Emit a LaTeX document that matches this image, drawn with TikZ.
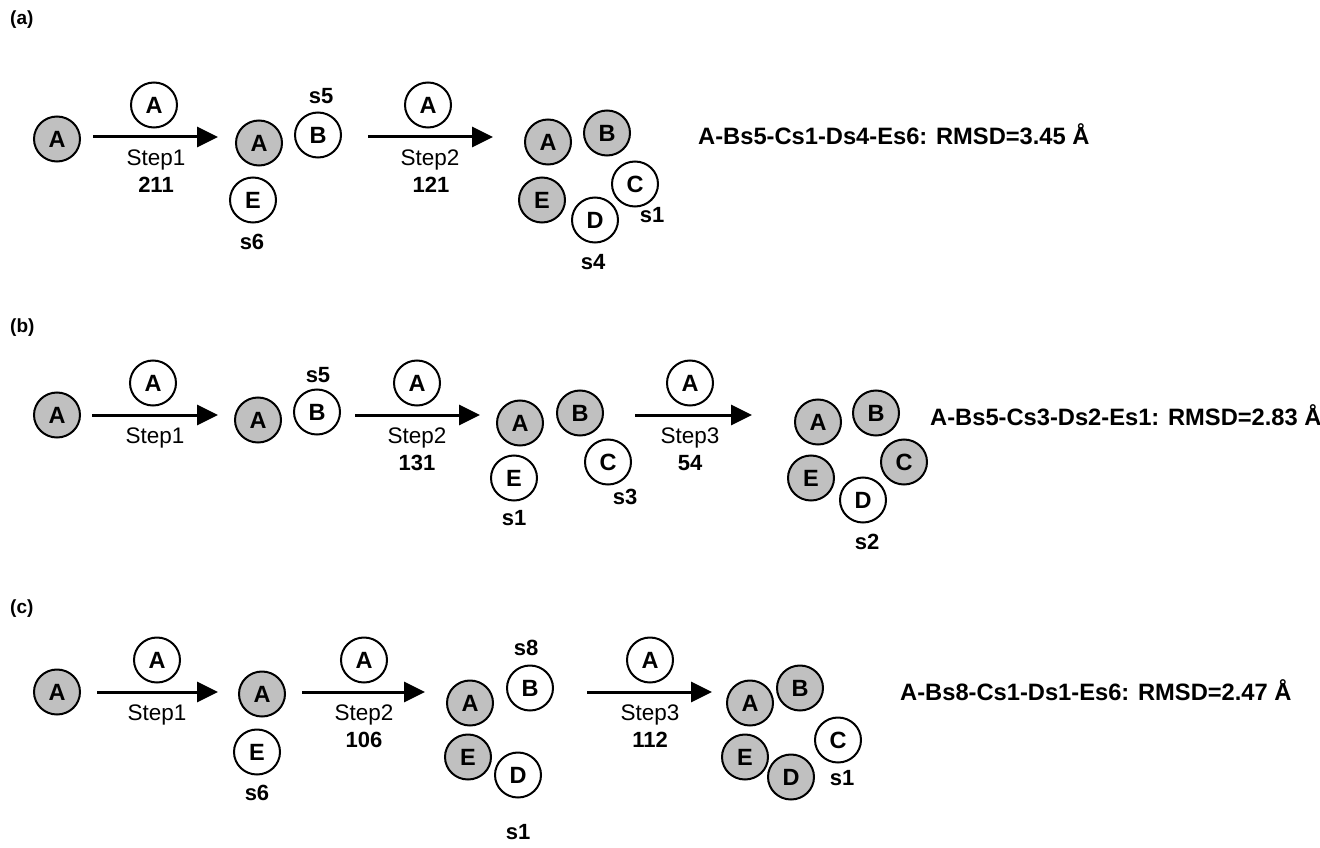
\documentclass[tikz,border=0pt]{standalone}
\usepackage{fontspec}
\setmainfont{Liberation Sans}
\usetikzlibrary{arrows.meta,shapes.geometric}
\definecolor{ballgray}{RGB}{192,192,192}
\begin{document}
\begin{tikzpicture}[x=1pt,y=-1pt,
 ball/.style={ellipse,draw,line width=2pt,minimum width=46pt,minimum height=45pt,inner sep=0pt,font=\bfseries\fontsize{23.5}{26}\selectfont},
 gball/.style={ball,fill=ballgray},
 wball/.style={ball,fill=white},
 arr/.style={line width=3pt,-{Triangle[length=21pt,width=20pt]}},
 steptxt/.style={font=\fontsize{22.5}{26}\selectfont,inner sep=0pt,anchor=base},
 numtxt/.style={font=\bfseries\fontsize{22}{26}\selectfont,inner sep=0pt,anchor=base},
 slab/.style={font=\bfseries\fontsize{22}{26}\selectfont,inner sep=0pt},
 rmsd/.style={font=\bfseries\fontsize{23.7}{28}\selectfont,inner sep=0pt,anchor=base west},
 panel/.style={font=\bfseries\fontsize{19}{22}\selectfont,inner sep=0pt,anchor=west}]
\useasboundingbox (0,0) rectangle (1320,848);

% ---------------- (a)
\node[panel] (la) at (10,20) {(a)};
\node[gball] (a1) at (57,139) {A};
\coordinate (a1s) at (93,137); \coordinate (a1e) at (218,137);
\draw[arr] (a1s) -- (a1e);
\node[wball] (a1t) at (154,105) {A};
\node[steptxt] (a1st) at (156,165) {Step1};
\node[numtxt] (a1n) at (156,192) {211};

\node[gball] (a2A) at (259,143) {A};
\node[wball] (a2B) at (318,135) {B};
\node[slab] (a2s5) at (321,96) {s5};
\node[wball] (a2E) at (253,200) {E};
\node[slab] (a2s6) at (252,242) {s6};

\coordinate (a2s) at (368,137); \coordinate (a2e) at (493,137);
\draw[arr] (a2s) -- (a2e);
\node[wball] (a2t) at (428,105) {A};
\node[steptxt] (a2st) at (430,165) {Step2};
\node[numtxt] (a2n) at (431,192) {121};

\node[gball] (a3A) at (548,142) {A};
\node[gball] (a3B) at (607,133) {B};
\node[wball] (a3C) at (635,184) {C};
\node[gball] (a3E) at (542,200) {E};
\node[wball] (a3D) at (595,220) {D};
\node[slab] (a3s1) at (652,215) {s1};
\node[slab] (a3s4) at (593,262) {s4};
\node[rmsd] (ra) at (698,145) {A-Bs5-Cs1-Ds4-Es6: RMSD=3.45 Å};

% ---------------- (b)
\node[panel] (lb) at (10,328) {(b)};
\node[gball] (b1) at (57,415) {A};
\coordinate (b1s) at (92,415); \coordinate (b1e) at (218,415);
\draw[arr] (b1s) -- (b1e);
\node[wball] (b1t) at (153,383) {A};
\node[steptxt] (b1st) at (155,443) {Step1};

\node[gball] (b2A) at (258,420) {A};
\node[wball] (b2B) at (317,412) {B};
\node[slab] (b2s5) at (318,375) {s5};

\coordinate (b2s) at (355,415); \coordinate (b2e) at (480,415);
\draw[arr] (b2s) -- (b2e);
\node[wball] (b2t) at (417,383) {A};
\node[steptxt] (b2st) at (417,443) {Step2};
\node[numtxt] (b2n) at (417,470) {131};

\node[gball] (b3A) at (520,423) {A};
\node[gball] (b3B) at (580,413) {B};
\node[wball] (b3C) at (608,462) {C};
\node[wball] (b3E) at (514,478) {E};
\node[slab] (b3s1) at (514,518) {s1};
\node[slab] (b3s3) at (625,497) {s3};

\coordinate (b3s) at (635,415); \coordinate (b3e) at (752,415);
\draw[arr] (b3s) -- (b3e);
\node[wball] (b3t) at (690,383) {A};
\node[steptxt] (b3st) at (690,443) {Step3};
\node[numtxt] (b3n) at (690,470) {54};

\node[gball] (b4A) at (818,422) {A};
\node[gball] (b4B) at (876,413) {B};
\node[gball] (b4C) at (904,462) {C};
\node[gball] (b4E) at (811,478) {E};
\node[wball] (b4D) at (863,500) {D};
\node[slab] (b4s2) at (867,542) {s2};
\node[rmsd] (rb) at (930,425) {A-Bs5-Cs3-Ds2-Es1: RMSD=2.83 Å};

% ---------------- (c)
\node[panel] (lc) at (10,609) {(c)};
\node[gball] (c1) at (57,692) {A};
\coordinate (c1s) at (97,692); \coordinate (c1e) at (218,692);
\draw[arr] (c1s) -- (c1e);
\node[wball] (c1t) at (157,660) {A};
\node[steptxt] (c1st) at (157,720) {Step1};

\node[gball] (c2A) at (262,694) {A};
\node[wball] (c2E) at (257,752) {E};
\node[slab] (c2s6) at (257,793) {s6};

\coordinate (c2s) at (302,692); \coordinate (c2e) at (425,692);
\draw[arr] (c2s) -- (c2e);
\node[wball] (c2t) at (364,660) {A};
\node[steptxt] (c2st) at (364,720) {Step2};
\node[numtxt] (c2n) at (364,747) {106};

\node[gball] (c3A) at (470,703) {A};
\node[wball] (c3B) at (530,688) {B};
\node[slab] (c3s8) at (526,648) {s8};
\node[gball] (c3E) at (468,757) {E};
\node[wball] (c3D) at (518,775) {D};
\node[slab] (c3s1) at (518,832) {s1};

\coordinate (c3s) at (587,692); \coordinate (c3e) at (712,692);
\draw[arr] (c3s) -- (c3e);
\node[wball] (c3t) at (650,660) {A};
\node[steptxt] (c3st) at (650,720) {Step3};
\node[numtxt] (c3n) at (650,747) {112};

\node[gball] (c4A) at (750,703) {A};
\node[gball] (c4B) at (800,688) {B};
\node[wball] (c4C) at (838,740) {C};
\node[gball] (c4E) at (745,757) {E};
\node[gball] (c4D) at (791,777) {D};
\node[slab] (c4s1) at (842,778) {s1};
\node[rmsd] (rc) at (900,700) {A-Bs8-Cs1-Ds1-Es6: RMSD=2.47 Å};
\end{tikzpicture}
\end{document}
